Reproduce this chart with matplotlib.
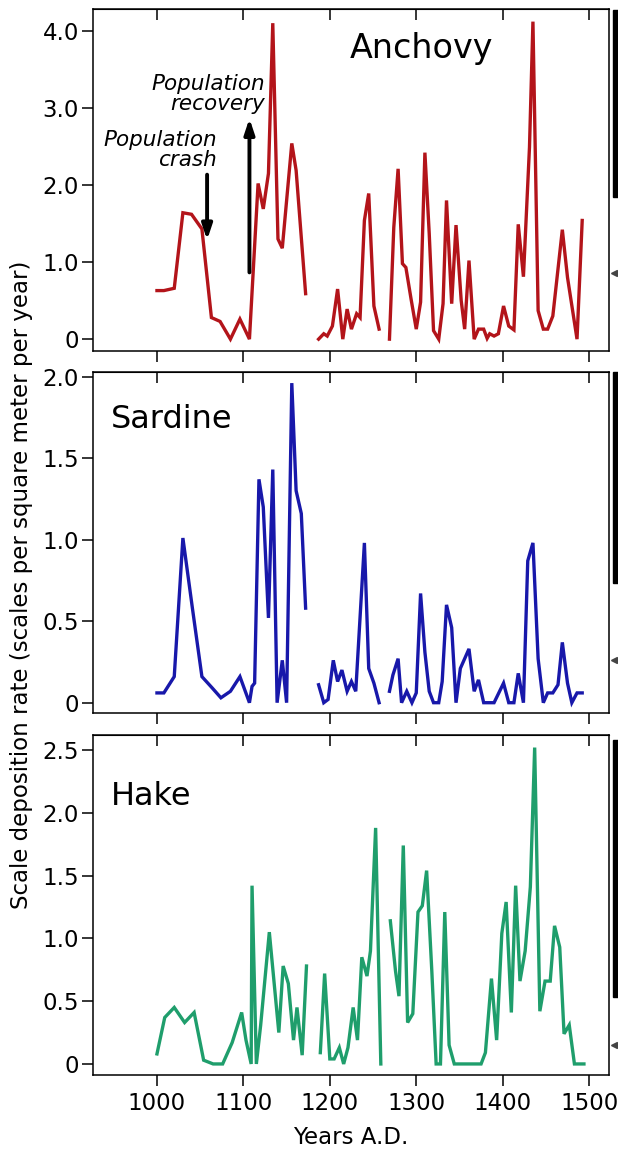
import numpy as np
import matplotlib.pyplot as plt
from matplotlib.patches import Rectangle
from matplotlib.lines import Line2D

# scale deposition rates (scales per m2 per year), NaN = gap in the record
anchovy_years = [1000, 1008, 1020, 1030, 1040, 1052, 1063, 1073, 1085, 1096, 1107, 1117, 1123, 1129,
                 1134, 1140, 1145, 1156, 1161, 1172, 1180,
                 1187, 1193, 1197, 1203, 1209, 1215, 1220, 1225, 1231, 1235, 1240, 1245, 1251, 1257, 1263,
                 1269, 1274, 1279, 1284, 1288, 1294, 1300, 1305, 1310, 1315, 1320, 1326, 1331, 1335, 1341,
                 1346, 1352, 1356, 1361, 1367, 1372, 1378, 1382, 1385, 1390, 1395, 1401, 1407, 1413, 1418,
                 1424, 1431, 1435, 1441, 1447, 1452, 1458, 1469, 1475, 1486, 1492]
anchovy = [0.63, 0.63, 0.66, 1.64, 1.62, 1.43, 0.28, 0.23, 0.0, 0.26, 0.0, 2.02, 1.69, 2.15,
           4.10, 1.30, 1.18, 2.54, 2.19, 0.59, np.nan,
           0.0, 0.07, 0.04, 0.17, 0.65, 0.0, 0.39, 0.13, 0.33, 0.28, 1.54, 1.89, 0.43, 0.13, np.nan,
           0.0, 1.45, 2.21, 0.98, 0.93, 0.52, 0.13, 0.48, 2.42, 1.37, 0.11, 0.0, 0.46, 1.80, 0.46,
           1.48, 0.50, 0.13, 1.02, 0.0, 0.13, 0.13, 0.01, 0.07, 0.04, 0.07, 0.43, 0.17, 0.12, 1.49,
           0.81, 2.49, 4.12, 0.37, 0.13, 0.13, 0.30, 1.42, 0.80, 0.0, 1.54]

sardine_years = [1000, 1008, 1020, 1030, 1041, 1052, 1064, 1074, 1085, 1096, 1107, 1110, 1113, 1118,
                 1123, 1129, 1134, 1139, 1145, 1150, 1156, 1161, 1167, 1172, 1180,
                 1187, 1193, 1198, 1204, 1209, 1214, 1220, 1225, 1230, 1240, 1245, 1251, 1257, 1263,
                 1269, 1273, 1279, 1283, 1289, 1295, 1300, 1305, 1310, 1315, 1320, 1326, 1330, 1335,
                 1341, 1346, 1351, 1361, 1367, 1372, 1378, 1383, 1390, 1401, 1407, 1413, 1418, 1424,
                 1429, 1435, 1441, 1447, 1452, 1458, 1464, 1469, 1475, 1480, 1486, 1492]
sardine = [0.06, 0.06, 0.16, 1.01, 0.58, 0.16, 0.09, 0.03, 0.07, 0.16, 0.0, 0.10, 0.12, 1.37,
           1.20, 0.52, 1.43, 0.0, 0.26, 0.0, 1.96, 1.30, 1.16, 0.58, np.nan,
           0.11, 0.0, 0.02, 0.26, 0.13, 0.20, 0.07, 0.13, 0.07, 0.98, 0.21, 0.12, 0.0, np.nan,
           0.07, 0.17, 0.27, 0.0, 0.07, 0.0, 0.06, 0.67, 0.31, 0.07, 0.0, 0.0, 0.13, 0.60,
           0.46, 0.0, 0.21, 0.33, 0.07, 0.14, 0.0, 0.0, 0.0, 0.12, 0.0, 0.0, 0.18, 0.0,
           0.87, 0.98, 0.27, 0.0, 0.06, 0.06, 0.11, 0.37, 0.12, 0.0, 0.06, 0.06]

hake_years = [1000, 1009, 1020, 1032, 1043, 1054, 1065, 1076, 1087, 1098, 1103, 1109, 1110, 1115,
              1120, 1130, 1141, 1146, 1152, 1158, 1162, 1168, 1173, 1180,
              1189, 1194, 1200, 1205, 1211, 1216, 1221, 1227, 1232, 1237, 1243, 1247, 1253, 1259, 1264,
              1270, 1276, 1280, 1285, 1290, 1296, 1302, 1307, 1312, 1318, 1323, 1328, 1333, 1338,
              1344, 1353, 1365, 1375, 1380, 1387, 1393, 1399, 1404, 1410, 1415, 1420, 1426, 1432,
              1437, 1443, 1449, 1455, 1460, 1466, 1471, 1477, 1483, 1489, 1494]
hake = [0.08, 0.37, 0.45, 0.33, 0.41, 0.03, 0.0, 0.0, 0.17, 0.41, 0.19, 0.0, 1.42, 0.0,
        0.31, 1.05, 0.25, 0.78, 0.64, 0.19, 0.45, 0.07, 0.78, np.nan,
        0.09, 0.72, 0.04, 0.04, 0.13, 0.0, 0.13, 0.45, 0.19, 0.85, 0.70, 0.90, 1.88, 0.0, np.nan,
        1.14, 0.74, 0.54, 1.74, 0.33, 0.40, 1.21, 1.26, 1.54, 0.74, 0.0, 0.0, 1.21, 0.15,
        0.0, 0.0, 0.0, 0.0, 0.09, 0.68, 0.19, 1.04, 1.29, 0.41, 1.42, 0.66, 0.90, 1.41,
        2.52, 0.42, 0.66, 0.66, 1.10, 0.93, 0.24, 0.31, 0.0, 0.0, 0.0]

names = ["Anchovy", "Sardine", "Hake"]
colors = ["#b3141a", "#1818aa", "#1f9e6c"]
yticks = [[0, 1, 2, 3, 4], [0, 0.5, 1.0, 1.5, 2.0], [0, 0.5, 1.0, 1.5, 2.0, 2.5]]
yticklabels = [["0", "1.0", "2.0", "3.0", "4.0"],
               ["0", "0.5", "1.0", "1.5", "2.0"],
               ["0", "0.5", "1.0", "1.5", "2.0", "2.5"]]
ylims = [(-0.15, 4.28), (-0.065, 2.03), (-0.088, 2.62)]
xticks = [1000, 1100, 1200, 1300, 1400, 1500]

plt.rcParams['font.family'] = ['DejaVu Sans']
W, H = 618, 1149
fig = plt.figure(figsize=(W / 100, H / 100), dpi=100)

# axes boxes in pixels: (top, bottom)
boxes = [(9.3, 350.7), (371.7, 713.3), (735, 1075)]
left, right = 93, 609

series = [(anchovy_years, anchovy), (sardine_years, sardine), (hake_years, hake)]
axes = []
for i, (top, bot) in enumerate(boxes):
    ax = fig.add_axes([left / W, 1 - bot / H, (right - left) / W, (bot - top) / H])
    yrs, vals = series[i]
    ax.plot(yrs, vals, color=colors[i], lw=2.4, solid_joinstyle='miter')
    ax.set_xlim(926, 1523)
    ax.set_ylim(*ylims[i])
    ax.set_yticks(yticks[i])
    ax.set_yticklabels(yticklabels[i])
    ax.set_xticks(xticks)
    ax.tick_params(axis='both', direction='out', length=8, width=1.1, labelsize=16.5, pad=2)
    ax.tick_params(axis='x', labelbottom=(i == 2), pad=4)
    for s in ax.spines.values():
        s.set_linewidth(1.1)
    # inward ticks along the top edge
    sec = ax.secondary_xaxis('top')
    sec.set_xticks(xticks)
    sec.tick_params(direction='in', length=8, width=1.1, labeltop=False)
    axes.append(ax)

axes[0].text(0.636, 0.885, "Anchovy", transform=axes[0].transAxes, fontsize=24, ha='center', va='center')
axes[1].text(0.035, 0.86, "Sardine", transform=axes[1].transAxes, fontsize=23, ha='left', va='center')
axes[2].text(0.035, 0.82, "Hake", transform=axes[2].transAxes, fontsize=23, ha='left', va='center')
axes[2].set_xlabel("Years A.D.", fontsize=16.5, labelpad=8)

# annotations in the anchovy panel
a0 = axes[0]
a0.text(1125, 3.18, "Population\nrecovery", fontsize=15.5, style='italic', ha='right', va='center',
        linespacing=1.0)
a0.text(1069, 2.45, "Population\ncrash", fontsize=15.5, style='italic', ha='right', va='center',
        linespacing=1.0)
a0.annotate("", xy=(1058, 1.25), xytext=(1058, 2.17),
            arrowprops=dict(arrowstyle='-|>,head_width=0.3,head_length=0.9', color='black', lw=2.8))
a0.annotate("", xy=(1107, 2.90), xytext=(1107, 0.83),
            arrowprops=dict(arrowstyle='-|>,head_width=0.3,head_length=0.9', color='black', lw=2.8))

fig.text(22 / W, 1 - 585 / H, "Scale deposition rate (scales per square meter per year)",
         rotation=90, fontsize=16.5, ha='center', va='center')

# cropped bars and marks from the neighbouring figure panel
for y0, y1 in [(10, 197), (372, 583), (740, 997)]:
    fig.patches.append(Rectangle((613 / W, 1 - y1 / H), 5 / W, (y1 - y0) / H,
                                 transform=fig.transFigure, color='black'))
for ym in [273, 660, 1045]:
    fig.lines.append(Line2D([614 / W], [1 - ym / H], marker='<', ms=4, color='#444444',
                            transform=fig.transFigure))

fig.savefig("out.png", dpi=100)
